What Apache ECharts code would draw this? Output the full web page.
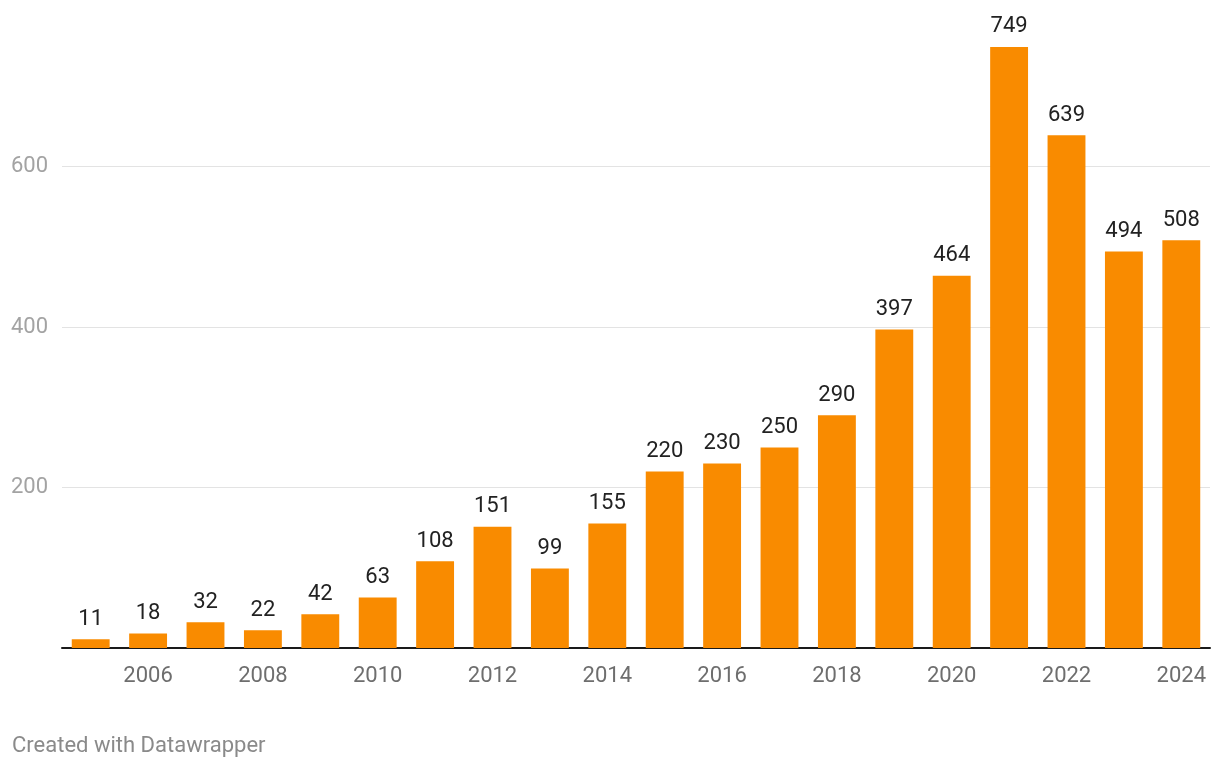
<!DOCTYPE html>
<html>
<head>
<meta charset="utf-8">
<script src="https://cdn.jsdelivr.net/npm/echarts@6/dist/echarts.min.js"></script>
<style>
html,body{margin:0;padding:0;background:#fff;}
#chart{width:1220px;height:770px;}
</style>
</head>
<body>
<div id="chart"></div>
<script>
const years = ['2005','2006','2007','2008','2009','2010','2011','2012','2013','2014','2015','2016','2017','2018','2019','2020','2021','2022','2023','2024'];
const values = [11,18,32,22,42,63,108,151,99,155,220,230,250,290,397,464,749,639,494,508];
const yTicks = [0,200,400,600,800];

const chart = echarts.init(document.getElementById('chart'), null, {renderer:'canvas'});
chart.setOption({
  animation:false,
  backgroundColor:'#ffffff',
  textStyle:{fontFamily:'Roboto'},
  grid:{left:62,right:10,top:6,bottom:122,containLabel:false},
  xAxis:{
    type:'category',
    data:years,
    axisLine:{show:true,lineStyle:{color:'#1a1a1a',width:2}},
    axisTick:{show:false},
    axisLabel:{
      interval:(i)=> i%2===1,
      color:'#6e6e6e',fontSize:22,fontFamily:'Roboto',margin:17
    }
  },
  yAxis:{
    type:'value',
    min:yTicks[0],max:yTicks[yTicks.length-1],interval:200,
    axisLine:{show:false},
    axisTick:{show:false},
    axisLabel:{
      color:'#a3a3a3',fontSize:22,fontFamily:'Roboto',align:'left',margin:51,
      padding:[3,0,0,0],
      formatter:(v)=> (v===0||v===800)?'':String(v)
    },
    splitLine:{show:true,lineStyle:{color:['#e3e3e3','#e3e3e3','#e3e3e3','#e3e3e3','rgba(0,0,0,0)'],width:1}}
  },
  series:[{
    type:'bar',
    data:values,
    barCategoryGap:'34%',
    itemStyle:{color:'#f98b00'},
    label:{show:true,position:'top',distance:9,color:'#222222',fontSize:22,fontFamily:'Roboto'}
  }],
  graphic:[{
    type:'text',left:12,top:735,
    style:{text:'Created with Datawrapper',fill:'#8a8a8a',fontSize:22,fontFamily:'Roboto'}
  }]
});
</script>
</body>
</html>
